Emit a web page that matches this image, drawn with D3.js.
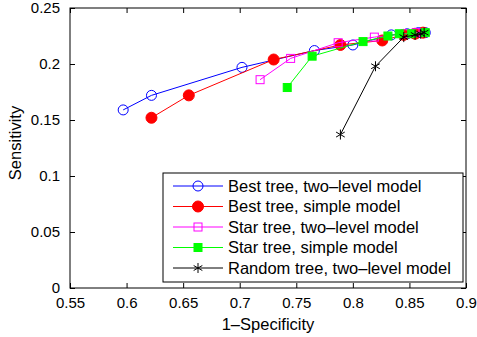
<!DOCTYPE html>
<html>
<head>
<meta charset="utf-8">
<script src="https://cdn.jsdelivr.net/npm/d3@7"></script>
<style>
  body { margin: 0; background: #fff; }
  text { font-family: "Liberation Sans", Arial, sans-serif; }
</style>
</head>
<body>
<div id="chart"></div>
<script>
// 1-Specificity / Sensitivity pairs
const bestTwoLevel = [[0.597, 0.159], [0.622, 0.172], [0.702, 0.197], [0.766, 0.212], [0.800, 0.217], [0.834, 0.226], [0.848, 0.227], [0.858, 0.228], [0.864, 0.228]];
const bestSimple = [[0.622, 0.152], [0.655, 0.172], [0.730, 0.204], [0.789, 0.217], [0.826, 0.221], [0.845, 0.226], [0.855, 0.227], [0.862, 0.228]];
const starTwoLevel = [[0.718, 0.186], [0.745, 0.205], [0.787, 0.219], [0.819, 0.224], [0.846, 0.227], [0.856, 0.228], [0.862, 0.228]];
const starSimple = [[0.742, 0.179], [0.764, 0.207], [0.809, 0.220], [0.831, 0.225], [0.841, 0.227], [0.852, 0.227], [0.864, 0.228]];
const randomTwoLevel = [[0.789, 0.137], [0.820, 0.198], [0.845, 0.224], [0.855, 0.226], [0.860, 0.227], [0.863, 0.228]];

const xTicks = [0.55, 0.6, 0.65, 0.7, 0.75, 0.8, 0.85, 0.9];
const yTicks = [0, 0.05, 0.1, 0.15, 0.2, 0.25];

const series = [
  { name: 'Best tree, two\u2013level model', data: bestTwoLevel, color: '#0000ff', marker: 'circle', fill: false },
  { name: 'Best tree, simple model', data: bestSimple, color: '#ff0000', marker: 'circle', fill: true },
  { name: 'Star tree, two\u2013level model', data: starTwoLevel, color: '#ff00ff', marker: 'square', fill: false },
  { name: 'Star tree, simple model', data: starSimple, color: '#00ff00', marker: 'square', fill: true },
  { name: 'Random tree, two\u2013level model', data: randomTwoLevel, color: '#000000', marker: 'star', fill: false },
];

const width = 477, height = 337;
const margin = { top: 8, right: 11, bottom: 49, left: 70 };
const w = width - margin.left - margin.right;
const h = height - margin.top - margin.bottom;

const svg = d3.select('#chart').append('svg').attr('width', width).attr('height', height);
const g = svg.append('g').attr('transform', `translate(${margin.left},${margin.top})`);

const x = d3.scaleLinear().domain([0.55, 0.9]).range([0, w]);
const y = d3.scaleLinear().domain([0, 0.25]).range([h, 0]);

// axes with inward ticks, mirrored on top/right like matlab
const tickLen = 5;
const styleAxis = sel => {
  sel.select('.domain').remove();
  sel.selectAll('line').attr('stroke', '#000');
  sel.selectAll('text').attr('fill', '#000').style('font-size', '15px');
};
g.append('g').attr('transform', `translate(0,${h})`)
  .call(d3.axisBottom(x).tickValues(xTicks).tickFormat(d3.format('')).tickSizeInner(-tickLen).tickSizeOuter(0).tickPadding(9))
  .call(styleAxis);
g.append('g')
  .call(d3.axisTop(x).tickValues(xTicks).tickFormat('').tickSizeInner(-tickLen).tickSizeOuter(0))
  .call(styleAxis);
g.append('g')
  .call(d3.axisLeft(y).tickValues(yTicks).tickFormat(d3.format('')).tickSizeInner(-tickLen).tickSizeOuter(0).tickPadding(10))
  .call(styleAxis);
g.append('g').attr('transform', `translate(${w},0)`)
  .call(d3.axisRight(y).tickValues(yTicks).tickFormat('').tickSizeInner(-tickLen).tickSizeOuter(0))
  .call(styleAxis);

g.append('rect').attr('width', w).attr('height', h).attr('fill', 'none').attr('stroke', '#000').attr('stroke-width', 1);

const line = d3.line().x(d => x(d[0])).y(d => y(d[1]));

const drawMarker = (sel, s) => {
  if (s.marker === 'circle') {
    sel.append('circle').attr('r', s.fill ? 5.5 : 5)
      .attr('fill', s.fill ? s.color : 'none').attr('stroke', s.color).attr('stroke-width', 1);
  } else if (s.marker === 'square') {
    const a = 8;
    sel.append('rect').attr('x', -a / 2).attr('y', -a / 2).attr('width', a).attr('height', a)
      .attr('fill', s.fill ? s.color : 'none').attr('stroke', s.color).attr('stroke-width', 1);
  } else {
    sel.append('path').attr('d', d3.symbol(d3.symbolAsterisk, 70)())
      .attr('fill', 'none').attr('stroke', s.color).attr('stroke-width', 1);
  }
};

series.forEach(s => {
  g.append('path').datum(s.data).attr('d', line).attr('fill', 'none').attr('stroke', s.color).attr('stroke-width', 1);
  g.selectAll(null).data(s.data).enter().append('g')
    .attr('transform', d => `translate(${x(d[0])},${y(d[1])})`)
    .each(function () { drawMarker(d3.select(this), s); });
});

// legend
const lg = svg.append('g').attr('transform', 'translate(163,173)');
lg.append('rect').attr('width', 300).attr('height', 109).attr('fill', '#fff').attr('stroke', '#000');
series.forEach((s, i) => {
  const row = lg.append('g').attr('transform', `translate(0,${13 + i * 20.5})`);
  row.append('line').attr('x1', 10).attr('x2', 60).attr('stroke', s.color);
  drawMarker(row.append('g').attr('transform', 'translate(35,0)'), s);
  row.append('text').attr('x', 65).attr('dy', '0.35em').style('font-size', '16.5px').text(s.name);
});

svg.append('text').attr('x', margin.left + w / 2).attr('y', 330).attr('text-anchor', 'middle')
  .style('font-size', '16.5px').text('1\u2013Specificity');
svg.append('text').attr('transform', `translate(21,143) rotate(-90)`).attr('text-anchor', 'middle')
  .style('font-size', '16.5px').text('Sensitivity');
</script>
</body>
</html>
